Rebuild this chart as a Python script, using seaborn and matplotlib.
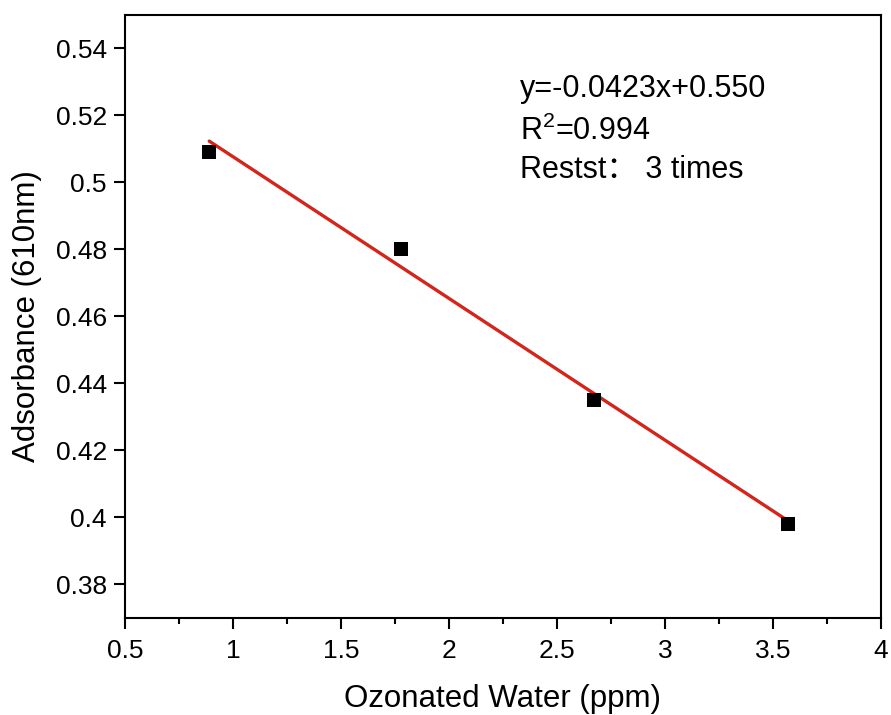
import matplotlib
matplotlib.use("Agg")
import matplotlib.pyplot as plt
from matplotlib.ticker import MultipleLocator
import numpy as np
import pandas as pd
import seaborn as sns

# Measured points
ozone_ppm = [0.89, 1.78, 2.67, 3.57]
absorbance = [0.509, 0.480, 0.435, 0.398]

# Linear fit reported on the chart
fit_slope = -0.0423
fit_intercept = 0.550
r_squared = 0.994
retests = 3

x_ticks = [0.5, 1, 1.5, 2, 2.5, 3, 3.5, 4]
x_tick_labels = ["0.5", "1", "1.5", "2", "2.5", "3", "3.5", "4"]
y_ticks = [0.38, 0.40, 0.42, 0.44, 0.46, 0.48, 0.50, 0.52, 0.54]
y_tick_labels = ["0.38", "0.4", "0.42", "0.44", "0.46", "0.48", "0.5", "0.52", "0.54"]

sns.set_theme(style="ticks")
plt.rcParams["font.family"] = ["Liberation Sans", "Noto Sans CJK SC", "DejaVu Sans"]
plt.rcParams["mathtext.fontset"] = "custom"
plt.rcParams["mathtext.rm"] = "Liberation Sans"
plt.rcParams["text.color"] = "black"
plt.rcParams["axes.labelcolor"] = "black"

points = pd.DataFrame({"ozone": ozone_ppm, "abs": absorbance})
fit_x = [ozone_ppm[0], ozone_ppm[-1]]
fit = pd.DataFrame({"ozone": fit_x,
                    "abs": [fit_slope * v + fit_intercept for v in fit_x]})

fig = plt.figure(figsize=(8.91, 7.15), dpi=100)
ax = fig.add_axes([125 / 891, 97 / 715, 756 / 891, 603 / 715])

sns.lineplot(data=fit, x="ozone", y="abs", ax=ax, color="#d0261c",
             linewidth=2.4, zorder=2)
sns.scatterplot(data=points, x="ozone", y="abs", ax=ax, marker="s",
                s=95, color="black", edgecolor="black", linewidth=0, zorder=3)

ax.set_xlim(0.5, 4)
ax.set_ylim(0.37, 0.55)
ax.set_xticks(x_ticks)
ax.set_xticklabels(x_tick_labels)
ax.set_yticks(y_ticks)
ax.set_yticklabels(y_tick_labels)
ax.xaxis.set_minor_locator(MultipleLocator(0.25))

for side in ["left", "right", "top", "bottom"]:
    ax.spines[side].set_visible(True)
    ax.spines[side].set_linewidth(1.5)
    ax.spines[side].set_color("black")

ax.tick_params(axis="both", which="major", direction="out", length=8,
               width=1.5, labelsize=19, colors="black", labelcolor="black",
               pad=5)
ax.tick_params(axis="x", which="major", pad=7)
ax.tick_params(axis="x", which="minor", direction="out", length=4, width=1.5,
               colors="black")
ax.tick_params(axis="y", which="minor", left=False)

ax.set_xlabel("Ozonated Water (ppm)", fontsize=22.5, labelpad=15,
              color="black")
ax.set_ylabel("Adsorbance (610nm)", fontsize=22.5, labelpad=10,
              color="black")

tx = (520 - 125) / 756
ax.text(tx, (618 - 97) / 603, f"y={fit_slope:.4f}x+{fit_intercept:.3f}",
        transform=ax.transAxes, fontsize=22, va="baseline", ha="left",
        color="black")
ax.text(tx, (618 - 140) / 603, f"R$^2$={r_squared:.3f}",
        transform=ax.transAxes, fontsize=22, va="baseline", ha="left",
        color="black")
ax.text(tx, (618 - 178) / 603, f"Restst\uff1a {retests} times",
        transform=ax.transAxes, fontsize=22, va="baseline", ha="left",
        color="black")

fig.savefig("out.png", dpi=100)
